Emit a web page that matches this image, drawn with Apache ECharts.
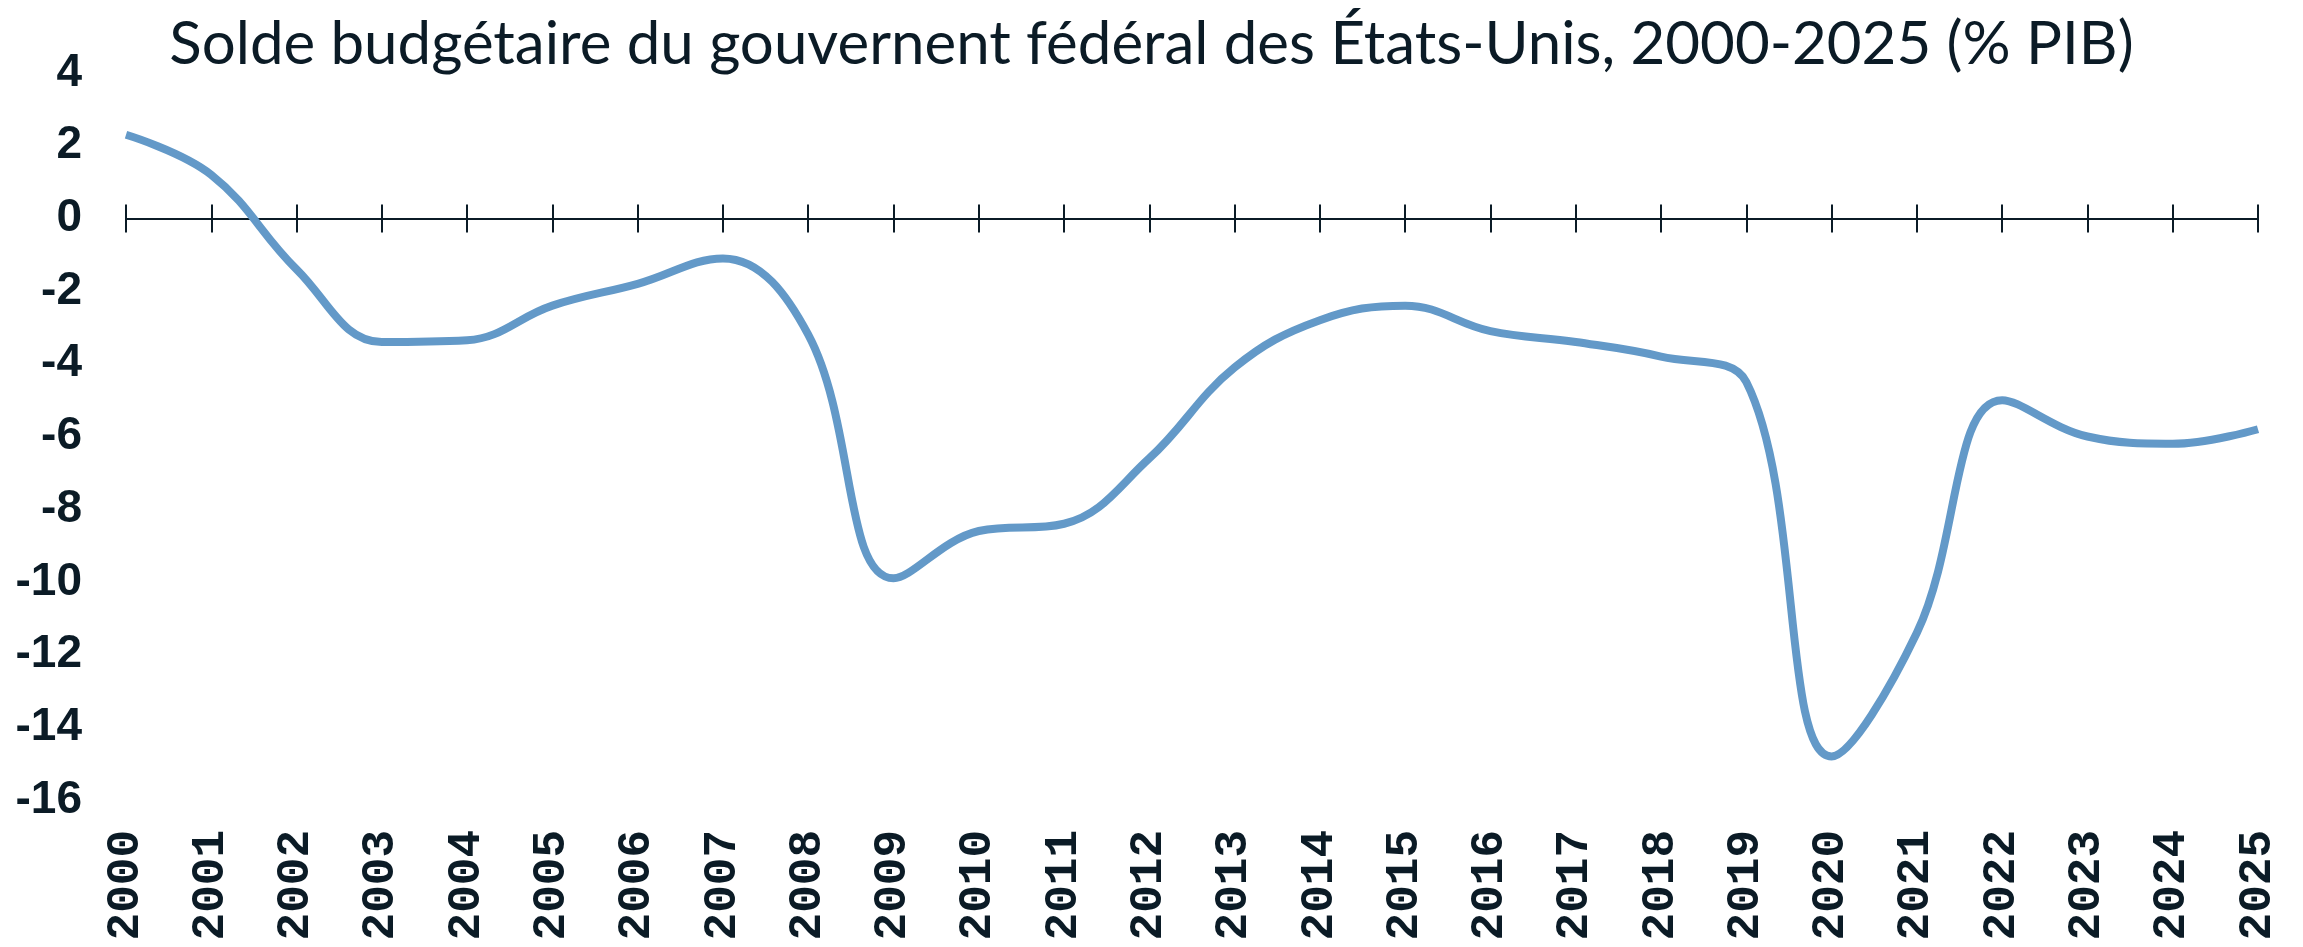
<!DOCTYPE html>
<html>
<head>
<meta charset="utf-8">
<script src="https://cdn.jsdelivr.net/npm/echarts@6/dist/echarts.min.js"></script>
<style>
  html, body { margin: 0; padding: 0; background: #fff; }
  #main { width: 2303px; height: 947px; }
</style>
</head>
<body>
<div id="main"></div>
<script>
// données : solde budgétaire (% PIB)
var years = ['2000', '2001', '2002', '2003', '2004', '2005', '2006', '2007', '2008', '2009',
  '2010', '2011', '2012', '2013', '2014', '2015', '2016', '2017', '2018', '2019',
  '2020', '2021', '2022', '2023', '2024', '2025'];
var solde = [2.3, 1.2, -1.4, -3.4, -3.35, -2.4, -1.8, -1.1, -3.2, -9.9,
  -8.6, -8.4, -6.6, -4.1, -2.8, -2.4, -3.1, -3.4, -3.8, -4.5,
  -14.8, -11.4, -5.0, -6.0, -6.2, -5.8];

var textColor = '#0b1b26';
var gridBox = { left: 126, right: 45, top: 73, bottom: 147, outerBoundsMode: 'none', containLabel: false };

function hiddenY(i) {
  return {
    type: 'value', gridIndex: i, min: -16, max: 4, interval: 2,
    axisLine: { show: false }, axisTick: { show: false },
    splitLine: { show: false }, axisLabel: { show: false }
  };
}

var chart = echarts.init(document.getElementById('main'));
var option = {
  backgroundColor: '#fff',
  animation: false,
  title: {
    text: 'Solde budgétaire du gouvernent fédéral des États-Unis, 2000-2025 (% PIB)',
    left: 'center',
    top: 10,
    textStyle: {
      fontFamily: 'Lato',
      fontWeight: 'normal',
      fontSize: 60,
      color: textColor
    }
  },
  grid: [
    Object.assign({}, gridBox),
    Object.assign({}, gridBox),
    Object.assign({}, gridBox)
  ],
  xAxis: [{
    // étiquettes en bas
    type: 'category',
    gridIndex: 0,
    data: years,
    boundaryGap: false,
    position: 'bottom',
    axisLine: { show: false, onZero: false },
    axisTick: { show: false },
    axisLabel: {
      rotate: 90,
      margin: 30,
      fontFamily: 'Liberation Mono',
      fontWeight: 'bold',
      fontSize: 46,
      color: textColor
    }
  }, {
    // ligne du zéro, graduations vers le bas
    type: 'category',
    gridIndex: 1,
    data: years,
    boundaryGap: false,
    axisLine: { show: true, onZero: true, lineStyle: { color: textColor, width: 2 } },
    axisTick: { show: true, length: 14, lineStyle: { color: textColor, width: 2 } },
    axisLabel: { show: false }
  }, {
    // graduations vers le haut
    type: 'category',
    gridIndex: 2,
    data: years,
    boundaryGap: false,
    axisLine: { show: false, onZero: true },
    axisTick: { show: true, inside: true, length: 14, lineStyle: { color: textColor, width: 2 } },
    axisLabel: { show: false }
  }],
  yAxis: [{
    type: 'value',
    gridIndex: 0,
    min: -16,
    max: 4,
    interval: 2,
    axisLine: { show: false },
    axisTick: { show: false },
    splitLine: { show: false },
    axisLabel: {
      margin: 44,
      fontFamily: 'Liberation Sans',
      fontWeight: 'bold',
      fontSize: 46,
      color: textColor
    }
  }, hiddenY(1), hiddenY(2)],
  series: [{
    name: 'Solde',
    type: 'line',
    xAxisIndex: 0,
    yAxisIndex: 0,
    data: solde,
    smooth: 0.4,
    symbol: 'none',
    lineStyle: { color: '#6399c8', width: 8 }
  }]
};
chart.setOption(option);
window.onresize = function () {
  chart.resize();
};
</script>
</body>
</html>
